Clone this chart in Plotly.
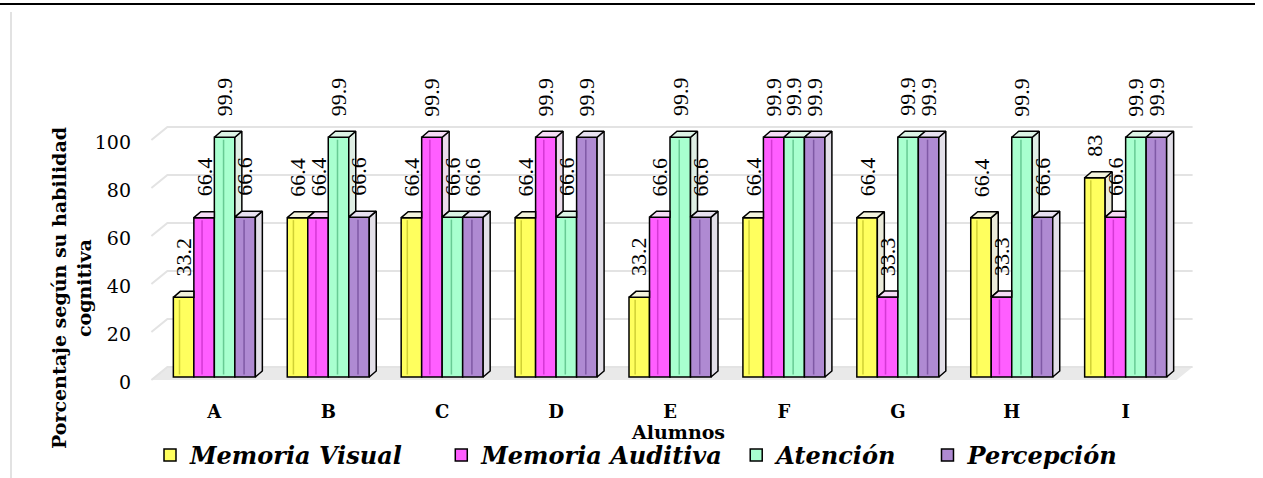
import plotly.graph_objects as go

# ---------------- data ----------------
alumnos = ["A", "B", "C", "D", "E", "F", "G", "H", "I"]
series_names = ["Memoria Visual", "Memoria Auditiva", "Atención", "Percepción"]
memoria_visual = [33.2, 66.4, 66.4, 66.4, 33.2, 66.4, 66.4, 66.4, 83]
memoria_auditiva = [66.4, 66.4, 99.9, 99.9, 66.6, 99.9, 33.3, 33.3, 66.6]
atencion = [99.9, 99.9, 66.6, 66.6, 99.9, 99.9, 99.9, 99.9, 99.9]
percepcion = [66.6, 66.6, 66.6, 99.9, 66.6, 99.9, 99.9, 66.6, 99.9]
y_ticks = [0, 20, 40, 60, 80, 100]

series_values = [memoria_visual, memoria_auditiva, atencion, percepcion]

# ---------------- style ----------------
front_colors = ["#FFFF5E", "#FF5EFF", "#A8FFCF", "#AF8AD2"]
bevel_colors = ["rgba(170,170,20,0.55)", "rgba(170,20,170,0.5)",
                "rgba(40,150,90,0.5)", "rgba(80,40,120,0.5)"]
top_colors = ["#F3F3DC", "#F6DCF6", "#DDF4E6", "#E8E1F0"]
side_colors = ["#EBEBDA", "#ECDCEC", "#DFEEE4", "#E2DFE8"]
legend_pad = [4, 1, 3, 0]  # extra spacing after each legend entry

W, H = 1263, 478
L, R, T, B = 146, 1194, 125, 389
XR = [-0.6, 8.6]
YR = [-5, 105]
px_x_unit = (R - L) / (XR[1] - XR[0])
px_y_unit = (B - T) / (YR[1] - YR[0])

bar_w = 20.5 / px_x_unit
dx = 7 / px_x_unit
dy = 6 / px_y_unit
offsets = [-1.5 * bar_w, -0.5 * bar_w, 0.5 * bar_w, 1.5 * bar_w]
bevel_pos = [0.3, 0.4, 0.45, 0.45]


def pxx(p):
    return (p - L) / (R - L)


def pxy(p):
    return (B - p) / (B - T)


fig = go.Figure()

# front faces (bars)
for s, name in enumerate(series_names):
    fig.add_trace(go.Bar(
        x=[i + offsets[s] for i in range(len(alumnos))],
        y=series_values[s],
        width=bar_w,
        name=name + "\u00a0" * legend_pad[s],
        marker=dict(color=front_colors[s], line=dict(color="black", width=1.5)),
        hoverinfo="skip",
    ))

# 3D top and side faces, computed from the values
for s in range(len(series_names)):
    vals = series_values[s]
    nxt_vals = series_values[s + 1] if s + 1 < len(series_values) else [0] * len(vals)
    tx, ty, sx, sy, bx, by = [], [], [], [], [], []
    for i, v in enumerate(vals):
        nv = nxt_vals[i]
        x0 = i + offsets[s] - bar_w / 2
        x1 = x0 + bar_w
        if nv > v:
            pts = [(x0, v), (x0 + dx, v + dy), (x1, v + dy), (x1, v), (x0, v)]
        else:
            pts = [(x0, v), (x0 + dx, v + dy), (x1 + dx, v + dy), (x1, v), (x0, v)]
        tx += [p[0] for p in pts] + [None]
        ty += [p[1] for p in pts] + [None]
        if v > nv:
            pts = [(x1, nv), (x1, v), (x1 + dx, v + dy), (x1 + dx, nv + dy), (x1, nv)]
            sx += [p[0] for p in pts] + [None]
            sy += [p[1] for p in pts] + [None]
        # inner bevel line on the front face
        xb = x0 + bevel_pos[s] * bar_w
        inset = 2.5 / px_y_unit
        bx += [xb, xb, None]
        by += [inset, v - inset, None]
    fig.add_trace(go.Scatter(x=bx, y=by, mode="lines",
                             line=dict(color=bevel_colors[s], width=1.5),
                             showlegend=False, hoverinfo="skip"))
    fig.add_trace(go.Scatter(x=sx, y=sy, mode="lines", fill="toself",
                             fillcolor=side_colors[s],
                             line=dict(color="black", width=1.5),
                             showlegend=False, hoverinfo="skip"))
    fig.add_trace(go.Scatter(x=tx, y=ty, mode="lines", fill="toself",
                             fillcolor=top_colors[s],
                             line=dict(color="black", width=1.5),
                             showlegend=False, hoverinfo="skip"))

# data labels
annotations = []
for s in range(len(series_names)):
    for i, v in enumerate(series_values[s]):
        annotations.append(dict(
            x=i + offsets[s], y=v + dy, xref="x", yref="y",
            text=f"{v:g}", showarrow=False, textangle=-90,
            xanchor="center", yanchor="bottom", yshift=13,
            font=dict(family="Liberation Serif", size=22, color="black"),
        ))

# y-axis title
annotations.append(dict(
    x=pxx(71), y=pxy(288), xref="paper", yref="paper",
    text="Porcentaje según su habilidad<br>cognitiva", showarrow=False,
    textangle=-90, xanchor="center", yanchor="middle",
    font=dict(family="DejaVu Serif", size=19, color="black", weight="bold"),
))
# x-axis title
annotations.append(dict(
    x=pxx(678), y=pxy(432), xref="paper", yref="paper",
    text="Alumnos", showarrow=False, xanchor="center", yanchor="middle",
    font=dict(family="DejaVu Serif", size=19, color="black", weight="bold"),
))

# gridlines and floor (back wall, in perspective)
shapes = []
front_off = -3 / px_y_unit
back_off = 10 / px_y_unit
gx0 = -0.5 - 6 / px_x_unit
slant = 16 / px_x_unit
gx1 = 8.5 + 10 / px_x_unit
shapes.append(dict(
    type="path", xref="x", yref="y", layer="below",
    path=(f"M{gx0},{front_off} L{gx0 + slant},{back_off} L{gx1},{back_off} "
          f"L{gx1 - slant},{front_off} Z"),
    fillcolor="#E9E9E9", line=dict(width=0),
))
for t in y_ticks:
    shapes.append(dict(
        type="path", xref="x", yref="y", layer="below",
        path=f"M{gx0},{t + front_off} L{gx0 + slant},{t + back_off} L{gx1},{t + back_off}",
        line=dict(color="#E3E3E3", width=2),
    ))

# page frame lines
shapes.append(dict(type="line", xref="paper", yref="paper",
                   x0=pxx(0), x1=pxx(1255), y0=pxy(4), y1=pxy(4),
                   line=dict(color="black", width=2)))
shapes.append(dict(type="line", xref="paper", yref="paper",
                   x0=pxx(11), x1=pxx(11), y0=pxy(12), y1=pxy(478),
                   line=dict(color="#D9D9D9", width=1.5)))

fig.update_layout(
    width=W, height=H,
    margin=dict(l=L, r=W - R, t=T, b=H - B, autoexpand=False),
    paper_bgcolor="white", plot_bgcolor="white",
    barmode="overlay",
    showlegend=True,
    legend=dict(
        orientation="h", xref="container", yref="container",
        x=150 / W, y=1 - 433 / H, xanchor="left", yanchor="top",
        font=dict(family="DejaVu Serif", size=24, color="black",
                  style="italic", weight="bold"),
        traceorder="normal", itemwidth=30,
    ),
    xaxis=dict(
        range=XR, tickvals=list(range(len(alumnos))), ticktext=alumnos,
        showgrid=False, zeroline=False, showline=False, ticks="",
        tickfont=dict(family="DejaVu Serif", size=18, color="black", weight="bold"),
        ticklabelstandoff=10,
    ),
    yaxis=dict(
        range=YR, tickvals=y_ticks, showgrid=False, zeroline=False,
        showline=False, ticks="",
        tickfont=dict(family="DejaVu Serif", size=19, color="black"),
        ticklabelstandoff=14, ticklabelshift=5,
    ),
    annotations=annotations,
    shapes=shapes,
)

fig.write_html("out.html")
